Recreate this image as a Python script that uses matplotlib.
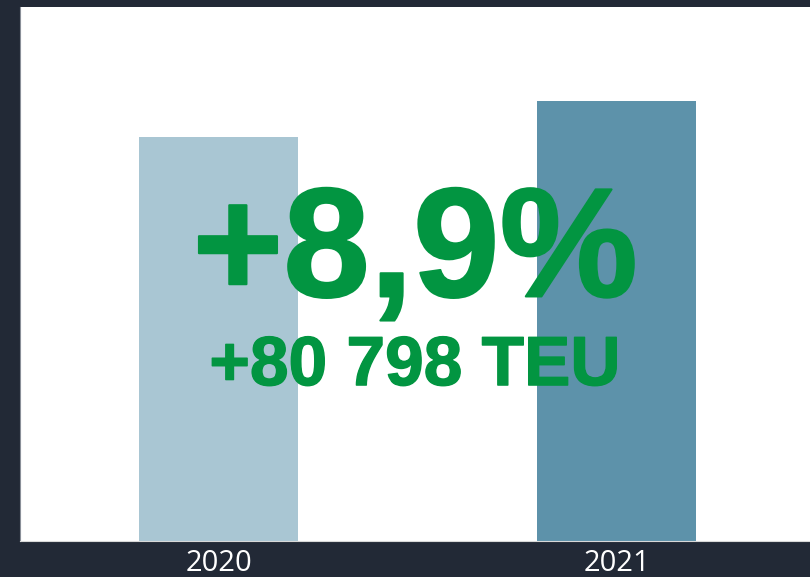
import matplotlib
matplotlib.use("Agg")
import matplotlib.pyplot as plt
import matplotlib.patheffects as pe

years = ["2020", "2021"]
teu = [907843, 988641]
bar_colors = ["#a9c6d3", "#5d92aa"]
change_pct = "+8,9%"
change_teu = "+80 798 TEU"

bg = "#222936"
green = "#029541"

fig = plt.figure(figsize=(8.1, 5.77), dpi=100, facecolor=bg)
ax = fig.add_axes([20 / 810, 36 / 577, 790 / 810, 534 / 577])
ax.set_facecolor("white")

ax.bar(range(len(years)), teu, width=0.4, color=bar_colors)
ax.set_xlim(-0.5, 1.486)
ax.set_ylim(0, 1.2e6)

ax.set_xticks(range(len(years)))
ax.set_xticklabels(years, fontsize=21, color="white", family="Open Sans")
ax.tick_params(axis="x", length=0, pad=6)
ax.set_yticks([])

for s in ["top", "right"]:
    ax.spines[s].set_visible(False)
ax.spines["left"].set_color("#8a8f98")
ax.spines["bottom"].set_color("#d8d8d8")

# heavy green labels, slightly thickened with a thin stroke
ax.text(0.5, 0.458, change_pct, transform=ax.transAxes, ha="center", va="baseline",
        fontsize=112, fontweight="bold", color=green, family="Liberation Sans",
        path_effects=[pe.withStroke(linewidth=1.5, foreground=green)])
ax.text(0.5, 0.292, change_teu, transform=ax.transAxes, ha="center", va="baseline",
        fontsize=50, fontweight="bold", color=green, family="Liberation Sans",
        path_effects=[pe.withStroke(linewidth=1, foreground=green)])

fig.savefig("out.png", dpi=100, facecolor=bg)
